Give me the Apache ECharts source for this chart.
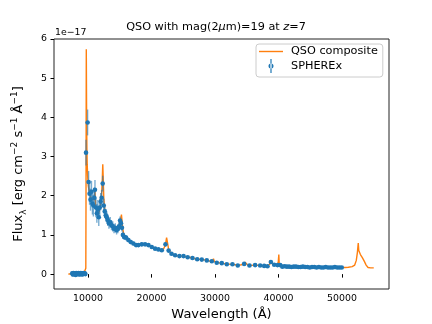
<!DOCTYPE html>
<html>
<head>
<meta charset="utf-8">
<script src="https://cdn.jsdelivr.net/npm/echarts@6/dist/echarts.min.js"></script>
<style>
html, body { margin: 0; padding: 0; background: #ffffff; }
#chart { width: 432px; height: 324px; }
</style>
</head>
<body>
<div id="chart"></div>
<script>
"use strict";

// QSO composite spectrum (flux in units of 1e-17)
var compWave = [6900, 7300, 7700, 8100, 8500, 8900, 9300, 9600, 9660, 9690, 9715, 9735, 9760, 9790, 9830, 9880, 9950,
  10050, 10200, 10400, 10600, 10800, 11000, 11100, 11200, 11400, 11600, 11800, 12000, 12150, 12260, 12330, 12400,
  12500, 12650, 12850, 13100, 13400, 13750, 14100, 14450, 14800, 15050, 15200, 15270, 15350, 15500, 15700, 16000,
  16400, 16800, 17200, 17600, 18000, 18500, 19000, 19500, 20000, 20500, 21000, 21500, 21900, 22200, 22380, 22500,
  22700, 23000, 23500, 24000, 24500, 25000, 25500, 26000, 26500, 27000, 27500, 28000, 28500, 29000, 29600, 29760,
  29900, 30300, 31000, 31800, 32500, 33200, 33700, 34200, 34750, 35100, 35500, 36300, 37100, 37700, 38300, 38650,
  38850, 39050, 39400, 39800, 39960, 40050, 40120, 40300, 40800, 41500, 42500, 43500, 44500, 45500, 46500, 47500,
  48500, 49500, 50500, 51000, 51600, 52000, 52250, 52420, 52560, 52640, 52900, 53200, 53500, 53800, 54100, 54500, 55000];
var compFlux = [0.00, 0.01, -0.01, 0.01, 0.00, 0.01, 0.00, 0.01, 0.15, 1.8, 4.2, 5.74, 4.9, 3.9, 3.2, 2.8, 2.5,
  2.25, 2.1, 1.98, 1.9, 1.85, 1.9, 2.1, 1.75, 1.62, 1.52, 1.62, 1.8, 2.05, 2.45, 2.8, 2.45,
  1.9, 1.62, 1.48, 1.38, 1.3, 1.24, 1.18, 1.13, 1.2, 1.35, 1.45, 1.52, 1.38, 1.12, 0.98, 0.93,
  0.87, 0.82, 0.78, 0.75, 0.75, 0.77, 0.76, 0.74, 0.70, 0.66, 0.64, 0.62, 0.64, 0.75, 0.93, 0.82,
  0.63, 0.55, 0.50, 0.47, 0.46, 0.46, 0.44, 0.43, 0.41, 0.39, 0.38, 0.37, 0.36, 0.34, 0.33, 0.39,
  0.32, 0.30, 0.28, 0.26, 0.25, 0.24, 0.23, 0.24, 0.30, 0.24, 0.22, 0.23, 0.22, 0.21, 0.21, 0.26,
  0.33, 0.26, 0.23, 0.23, 0.30, 0.50, 0.25, 0.22, 0.20, 0.19, 0.19, 0.185, 0.18, 0.18, 0.175, 0.175,
  0.17, 0.17, 0.17, 0.175, 0.19, 0.23, 0.35, 0.55, 0.79, 0.60, 0.50, 0.42, 0.33, 0.23, 0.17, 0.16, 0.16];

// SPHEREx simulated measurements
var specWave = [7520, 7610, 7700, 7790, 7880, 7970, 8060, 8150, 8240, 8330, 8420, 8510, 8600, 8690, 8780, 8870,
  8960, 9050, 9140, 9230, 9320, 9410, 9500, 9590, 9690, 9940,
  10100, 10250, 10400, 10550, 10700, 10850, 11000, 11100, 11250, 11400, 11550, 11700, 11850, 12000, 12150, 12320,
  12480, 12640, 12800, 12960, 13120, 13300, 13500, 13700, 13900, 14100, 14300, 14500, 14700, 14900, 15050, 15200,
  15350, 15500, 15700,
  16000, 16360, 16730, 17150, 17570, 17940, 18470, 18990, 19520,
  20040, 20570, 21090, 21620, 22200, 22700, 23150, 23720, 24400, 25050, 25700, 26450, 27200, 27920, 28710,
  29500, 30280, 31070, 31860, 32750, 33590, 34590, 35430, 36320, 37110, 37740, 38270, 38800, 39320, 39850,
  40270, 40600, 40960, 41320, 41680, 42040, 42400, 42760, 43120, 43480, 43840, 44200, 44560, 44920, 45280,
  45640, 46000, 46360, 46720, 47080, 47440, 47800, 48160, 48520, 48880, 49240, 49600, 49960];
var specFlux = [0.02, -0.01, 0.03, 0.00, 0.02, 0.01, -0.02, 0.03, 0.00, 0.02, 0.01, 0.03, -0.01, 0.02, 0.00,
  0.03, 0.01, -0.01, 0.02, 0.00, 0.03, 0.01, 0.02, 0.00, 3.10, 3.87,
  2.35, 2.05, 1.90, 2.10, 1.80, 1.75, 1.95, 2.15, 1.70, 1.55, 1.65, 1.45, 1.70, 1.85, 1.95, 2.31,
  1.75, 1.60, 1.50, 1.45, 1.38, 1.30, 1.32, 1.25, 1.22, 1.16, 1.18, 1.12, 1.15, 1.22, 1.37, 1.30,
  1.18, 1.00, 0.95,
  0.93, 0.87, 0.82, 0.78, 0.74, 0.74, 0.76, 0.76, 0.74,
  0.69, 0.65, 0.63, 0.61, 0.76, 0.60, 0.52, 0.48, 0.46, 0.46, 0.43, 0.41, 0.38, 0.37, 0.35,
  0.33, 0.29, 0.28, 0.25, 0.25, 0.22, 0.26, 0.22, 0.23, 0.22, 0.21, 0.20, 0.31, 0.24, 0.23,
  0.23, 0.19, 0.20, 0.19, 0.19, 0.18, 0.19, 0.19, 0.18, 0.18, 0.19, 0.18, 0.18, 0.17, 0.18,
  0.18, 0.17, 0.18, 0.17, 0.17, 0.18, 0.17, 0.17, 0.17, 0.18, 0.17, 0.17, 0.17];
var specErr = [0.05, 0.05, 0.05, 0.05, 0.05, 0.05, 0.05, 0.05, 0.05, 0.05, 0.05, 0.05, 0.05, 0.05, 0.05,
  0.05, 0.05, 0.05, 0.05, 0.05, 0.05, 0.05, 0.05, 0.05, 0.33, 0.33,
  0.28, 0.28, 0.28, 0.28, 0.28, 0.28, 0.26, 0.25, 0.25, 0.24, 0.24, 0.22, 0.22, 0.22, 0.2, 0.2,
  0.18, 0.17, 0.16, 0.15, 0.15, 0.14, 0.14, 0.13, 0.13, 0.12, 0.12, 0.11, 0.11, 0.11, 0.1, 0.1,
  0.09, 0.09, 0.08,
  0.07, 0.06, 0.06, 0.05, 0.05, 0.05, 0.05, 0.04, 0.04,
  0.04, 0.04, 0.04, 0.04, 0.05, 0.04, 0.04, 0.03, 0.03, 0.03, 0.03, 0.03, 0.03, 0.03, 0.03,
  0.03, 0.03, 0.03, 0.03, 0.03, 0.03, 0.03, 0.03, 0.03, 0.03, 0.03, 0.03, 0.03, 0.03, 0.03,
  0.03, 0.03, 0.03, 0.03, 0.03, 0.03, 0.03, 0.03, 0.03, 0.03, 0.03, 0.03, 0.03, 0.03, 0.03,
  0.03, 0.03, 0.03, 0.03, 0.03, 0.03, 0.03, 0.03, 0.03, 0.03, 0.03, 0.03, 0.03];

var xTicks = [10000, 20000, 30000, 40000, 50000];
var yTicks = [0, 1, 2, 3, 4, 5, 6];

var FONT = 'DejaVu Sans';
var BLUE = '#1f77b4';
var ORANGE = '#ff7f0e';

var compData = compWave.map(function (w, i) { return [w, compFlux[i]]; });
var specData = specWave.map(function (w, i) { return [w, specFlux[i]]; });
var errData = specWave.map(function (w, i) { return [w, specFlux[i] - specErr[i], specFlux[i] + specErr[i]]; });

function renderErr(params, api) {
  var lo = api.coord([api.value(0), api.value(1)]);
  var hi = api.coord([api.value(0), api.value(2)]);
  return {
    type: 'line',
    shape: {x1: lo[0], y1: lo[1], x2: hi[0], y2: hi[1]},
    style: {stroke: BLUE, lineWidth: 1.4, opacity: 0.6}
  };
}

var chart = echarts.init(document.getElementById('chart'), null, {renderer: 'canvas'});

var option = {
  backgroundColor: '#ffffff',
  animation: false,
  textStyle: {fontFamily: FONT},
  title: {
    text: 'QSO with mag(2{i|μ}m)=19 at {i|z}=7',
    left: 'center',
    top: 22,
    padding: [0, 0, 0, 11],
    textStyle: {
      fontFamily: FONT, fontSize: 11.25, fontWeight: 'normal', color: '#000',
      rich: {i: {fontFamily: FONT, fontSize: 11.25, fontStyle: 'italic', color: '#000'}}
    }
  },
  grid: {
    left: 54, right: 43, top: 39, bottom: 35,
    show: true, borderColor: '#222', borderWidth: 1,
    outerBoundsMode: 'none'
  },
  legend: {
    left: 256, top: 44,
    orient: 'vertical',
    itemWidth: 24, itemHeight: 14, itemGap: 2,
    padding: [2, 5, 4, 3],
    backgroundColor: 'rgba(255,255,255,0.8)',
    borderColor: '#cccccc', borderWidth: 1, borderRadius: 3,
    textStyle: {fontFamily: FONT, fontSize: 11.25, color: '#000', padding: [0, 0, 0, 3]},
    data: [
      {name: 'QSO composite', icon: 'path://M0,0h24v1.4h-24z'},
      {name: 'SPHEREx', icon: 'path://M2,0h1.2v14h-1.2zM0.1,7a2.5,2.5 0 1,0 5,0a2.5,2.5 0 1,0 -5,0z'}
    ]
  },
  graphic: [{
    type: 'text', x: 55, y: 28,
    style: {text: '1e\u221217', fontFamily: FONT, fontSize: 9.4, fill: '#000'}
  }],
  xAxis: {
    type: 'value', min: 4650, max: 57400,
    name: 'Wavelength (Å)', nameLocation: 'middle', nameGap: 19,
    nameTextStyle: {fontFamily: FONT, fontSize: 13, color: '#000'},
    axisLine: {show: false},
    axisTick: {show: true, length: 3.5, lineStyle: {color: '#000', width: 1}, customValues: xTicks},
    axisLabel: {
      fontFamily: FONT, fontSize: 9.4, color: '#000', margin: 5, customValues: xTicks,
      formatter: function (v) { return String(v); }
    },
    splitLine: {show: false}
  },
  yAxis: {
    type: 'value', min: -0.38, max: 6,
    name: 'Flux{sub|λ} [erg cm{sup|\u22122} s{sup|\u22121} Å{sup|\u22121}]',
    nameLocation: 'middle', nameRotate: 90, nameGap: 26,
    nameTextStyle: {
      fontFamily: FONT, fontSize: 13, color: '#000', lineHeight: 18,
      rich: {
        sup: {fontFamily: FONT, fontSize: 9, lineHeight: 9, verticalAlign: 'top', color: '#000'},
        sub: {fontFamily: FONT, fontSize: 9, lineHeight: 9, verticalAlign: 'bottom', color: '#000'}
      }
    },
    axisLine: {show: false},
    axisTick: {show: true, length: 3.5, lineStyle: {color: '#000', width: 1}, customValues: yTicks},
    axisLabel: {fontFamily: FONT, fontSize: 9.4, color: '#000', margin: 7, customValues: yTicks},
    splitLine: {show: false}
  },
  series: [
    {
      name: 'QSO composite', type: 'line', data: compData,
      symbol: 'none', showSymbol: false, z: 1,
      lineStyle: {color: ORANGE, width: 1.4},
      itemStyle: {color: ORANGE}
    },
    {
      name: 'SPHEREx', type: 'custom', data: errData, renderItem: renderErr,
      z: 2, encode: {x: 0, y: [1, 2]}, itemStyle: {color: BLUE}
    },
    {
      name: 'SPHEREx', type: 'scatter', data: specData,
      symbol: 'circle', symbolSize: 4.6, z: 3,
      itemStyle: {color: BLUE, opacity: 1}
    }
  ]
};

chart.setOption(option);
</script>
</body>
</html>
